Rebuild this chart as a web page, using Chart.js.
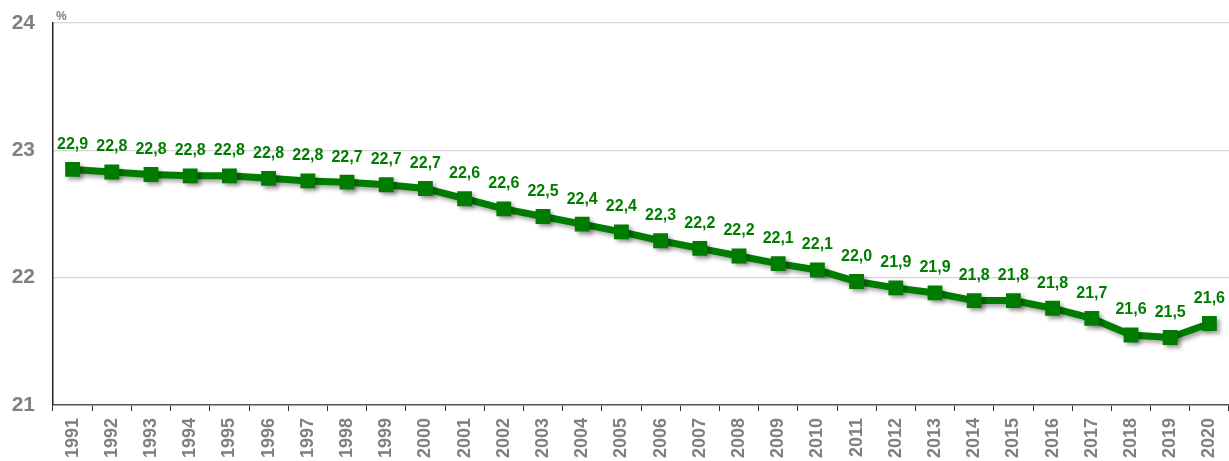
<!DOCTYPE html>
<html>
<head>
<meta charset="utf-8">
<script src="https://cdn.jsdelivr.net/npm/chart.js@4/dist/chart.umd.min.js"></script>
<style>
  html, body { margin: 0; padding: 0; background: #fff; overflow: hidden; }
  #wrap { width: 1229px; height: 461px; position: relative; overflow: hidden; }
  canvas { display: block; }
</style>
</head>
<body>
<div id="wrap"><canvas id="myChart"></canvas></div>
<script>
const years = ["1991","1992","1993","1994","1995","1996","1997","1998","1999","2000",
  "2001","2002","2003","2004","2005","2006","2007","2008","2009","2010",
  "2011","2012","2013","2014","2015","2016","2017","2018","2019","2020"];
const shares = [22.85, 22.83, 22.81, 22.80, 22.80, 22.78, 22.76, 22.75, 22.73, 22.70,
  22.62, 22.54, 22.48, 22.42, 22.36, 22.29, 22.23, 22.17, 22.11, 22.06,
  21.97, 21.92, 21.88, 21.82, 21.82, 21.76, 21.68, 21.55, 21.53, 21.64];
const shareLabels = ["22,9","22,8","22,8","22,8","22,8","22,8","22,8","22,7","22,7","22,7",
  "22,6","22,6","22,5","22,4","22,4","22,3","22,2","22,2","22,1","22,1",
  "22,0","21,9","21,9","21,8","21,8","21,8","21,7","21,6","21,5","21,6"];
const unit = "%";

const green = "#007d00";
const grey = "#808080";
const font = "'Liberation Sans', Arial, sans-serif";

// scales reserve extra room for their own labels; the layout here is fixed instead
const noPad = (s) => {
  s.paddingTop = 0;
  s.paddingBottom = 0;
  s.paddingLeft = 0;
  s.paddingRight = 0;
};

const shadow = {
  id: "shadow",
  beforeDatasetDraw(chart) {
    const c = chart.ctx;
    c.save();
    c.shadowColor = "rgba(0,0,0,0.35)";
    c.shadowOffsetX = 3;
    c.shadowOffsetY = 3;
    c.shadowBlur = 4;
  },
  afterDatasetDraw(chart) {
    chart.ctx.restore();
  },
};

const valueLabels = {
  id: "valueLabels",
  afterDatasetsDraw(chart) {
    const c = chart.ctx;
    const pts = chart.getDatasetMeta(0).data;
    c.save();
    c.fillStyle = green;
    c.font = "bold 16px " + font;
    c.textAlign = "center";
    c.textBaseline = "middle";
    pts.forEach((p, i) => c.fillText(shareLabels[i], p.x, p.y - 25));
    c.fillStyle = grey;
    c.font = "bold 12px " + font;
    c.textAlign = "left";
    c.fillText(unit, chart.chartArea.left + 3, chart.chartArea.top - 6);
    c.restore();
  },
};

new Chart(document.getElementById("myChart"), {
  type: "line",
  data: {
    labels: years,
    datasets: [{
      data: shares,
      borderColor: green,
      backgroundColor: green,
      borderWidth: 7,
      pointStyle: "rect",
      pointRadius: 10.5,
      pointHoverRadius: 10.5,
      pointBorderWidth: 0,
      tension: 0,
    }],
  },
  options: {
    responsive: true,
    maintainAspectRatio: false,
    animation: false,
    layout: { autoPadding: false, padding: { top: 23, right: 0, left: 0, bottom: 0 } },
    plugins: { legend: { display: false }, tooltip: { enabled: false } },
    scales: {
      x: {
        offset: true,
        afterFit: (s) => { s.height = 56; noPad(s); },
        grid: { offset: true, drawOnChartArea: false, tickLength: 6, color: "#333" },
        border: { color: "#555", width: 1.5 },
        ticks: {
          color: grey,
          font: { size: 18, weight: "bold", family: font },
          maxRotation: 90,
          minRotation: 90,
          autoSkip: false,
          padding: 7,
        },
      },
      y: {
        min: 21,
        max: 24,
        afterFit: (s) => { s.width = 53; noPad(s); },
        grid: { color: "#d4d4d4", drawTicks: false, lineWidth: 1.2 },
        border: { color: "#222", width: 1.5 },
        ticks: {
          stepSize: 1,
          color: grey,
          padding: 18,
          font: { size: 21, weight: "bold", family: font },
        },
      },
    },
  },
  plugins: [shadow, valueLabels],
});
</script>
</body>
</html>
